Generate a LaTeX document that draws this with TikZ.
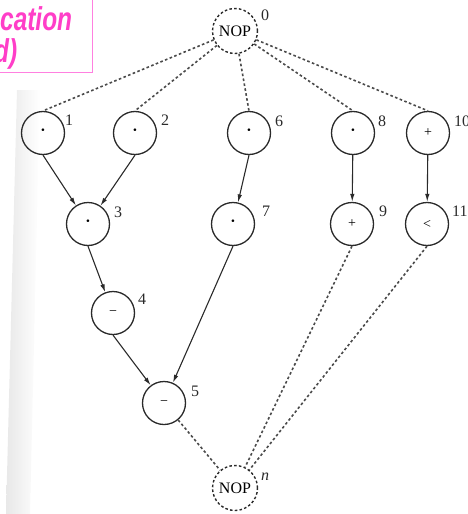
\documentclass[tikz,border=0pt]{standalone}
\usepackage{fontspec}
\setmainfont{Liberation Serif}
\newfontfamily\notefont{Liberation Sans}
\usetikzlibrary{arrows.meta,calc}
\definecolor{notepink}{HTML}{FF3EC8}
\definecolor{boxpink}{HTML}{FF80E0}
\definecolor{ink}{HTML}{2A2A2A}
\begin{document}
\begin{tikzpicture}[x=1pt,y=-1pt,
  op/.style={circle,draw=ink,line width=1.3pt,minimum size=43pt,inner sep=0pt,
             font=\fontsize{14}{14}\selectfont},
  dot/.style={op,font=\fontsize{22}{22}\selectfont},
  nop/.style={circle,draw=ink,line width=1.4pt,dash pattern=on 2.6pt off 2.2pt,
              minimum size=45pt,inner sep=0pt,font=\fontsize{16}{16}\selectfont},
  num/.style={anchor=west,inner sep=0pt,font=\fontsize{16}{16}\selectfont,text=ink},
  flow/.style={draw=ink,line width=1.1pt,-{Latex[length=8pt,width=4.5pt]}},
  dep/.style={draw=ink!85,line width=1.6pt,dash pattern=on 2.6pt off 2.4pt},
  note/.style={anchor=base west,inner sep=0pt,text=notepink,
               font=\notefont\bfseries\itshape\fontsize{33}{33}\selectfont}]
\useasboundingbox (0,0) rectangle (467,514);
\clip (0,0) rectangle (467,514);

% shadow along the scanned page edge
\shade[left color=black!9,right color=white] (17,90) -- (40,90) -- (30,514) -- (6,514) -- cycle;

% pink caption box, cut by the frame
\draw[boxpink,line width=1pt,fill=white] (-6,-6) rectangle (92,72);
\node[note] (cap1) at (0,30) {\scalebox{0.74}[1]{cation}};
\node[note] (cap2) at (-6,62) {\scalebox{0.74}[1]{d)}};

% operation nodes
\node[nop] (nop0) at (235,31) {NOP};
\node[dot] (n1)  at (43,133)  {·};
\node[dot] (n2)  at (135,133) {·};
\node[dot] (n6)  at (249,133) {·};
\node[dot] (n8)  at (353,133) {·};
\node[op]  (n10) at (428,133) {+};
\node[dot] (n3)  at (88,224)  {·};
\node[dot] (n7)  at (233,224) {·};
\node[op]  (n9)  at (352,224) {+};
\node[op]  (n11) at (427,224) {<};
\node[op]  (n4)  at (113,313) {−};
\node[op]  (n5)  at (164,403) {−};
\node[nop] (nopn) at (235,488) {NOP};

% node numbers
\node[num] (l0)  at (261,15)  {0};
\node[num] (l1)  at (65,120)  {1};
\node[num] (l2)  at (161,120) {2};
\node[num] (l6)  at (275,121) {6};
\node[num] (l8)  at (378,121) {8};
\node[num] (l10) at (454,121) {10};
\node[num] (l3)  at (114,212) {3};
\node[num] (l7)  at (262,211) {7};
\node[num] (l9)  at (379,211) {9};
\node[num] (l11) at (452,211) {11};
\node[num] (l4)  at (138,299) {4};
\node[num] (l5)  at (191,391) {5};
\node[num] (ln)  at (261,477) {\itshape n};

% source/sink dependences
\draw[dep] (nop0) -- (n1.north);
\draw[dep] (nop0) -- (n2.north);
\draw[dep] (nop0) -- (n6.north);
\draw[dep] (nop0) -- (n8.north);
\draw[dep] (nop0) -- (n10.north);
\draw[dep] (n5) -- (nopn);
\draw[dep] (n9.south) -- (nopn);
\draw[dep] (n11.south) -- (nopn);

% data dependences
\draw[flow] (n1.south) -- (n3);
\draw[flow] (n2.south) -- (n3);
\draw[flow] (n3.south) -- (n4);
\draw[flow] (n4.south) -- (n5);
\draw[flow] (n6.south) -- (n7);
\draw[flow] (n7.south) -- (n5);
\draw[flow] (n8) -- (n9);
\draw[flow] (n10) -- (n11);
\end{tikzpicture}
\end{document}
